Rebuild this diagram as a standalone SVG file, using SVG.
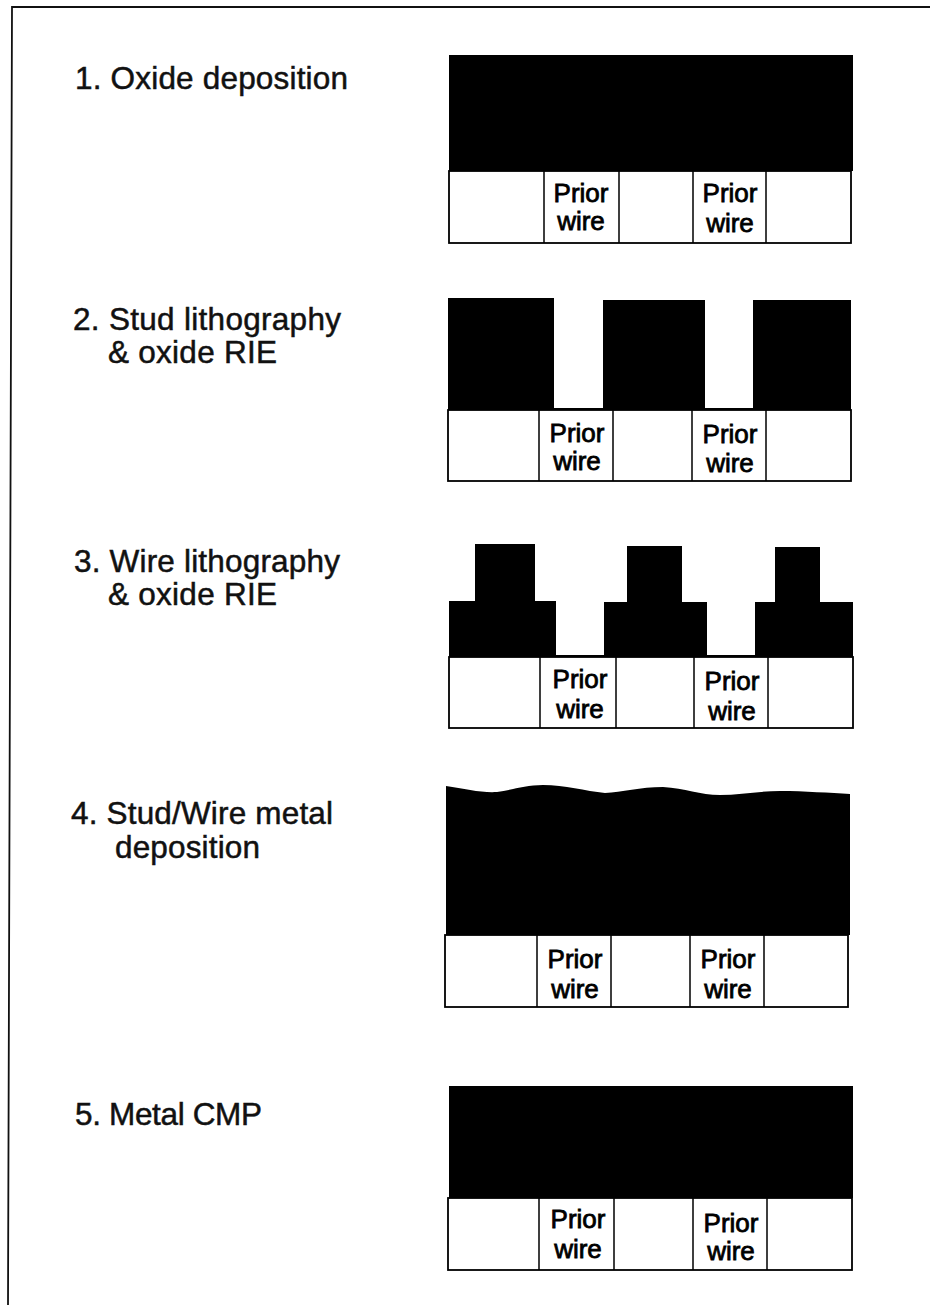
<svg xmlns="http://www.w3.org/2000/svg" width="930" height="1305" viewBox="0 0 930 1305">
<style>
.l{font-family:"Liberation Sans",Arial,sans-serif;font-size:31.500px;fill:#111;stroke:#111;stroke-width:.5px}
.p{font-family:"Liberation Sans",Arial,sans-serif;font-size:26px;fill:#000;stroke:#000;stroke-width:.8px;text-anchor:middle}
.k{fill:#000}
.b{fill:#fff;stroke:#000;stroke-width:1.800}
.d{stroke:#000;stroke-width:1.500;fill:none}
</style>
<rect width="930" height="1305" fill="#fff"/>
<path d="M8 1305L12 7H930" fill="none" stroke="#111" stroke-width="1.800"/>
<g id="step1"><text class="l" x="75" y="89" textLength="273">1. Oxide deposition</text>
<rect class="k" x="449" y="55" width="404" height="116"/><rect class="b" x="449" y="171" width="402" height="72"/><path class="d" d="M544 171V243M619 171V243M693 171V243M766 171V243"/>
<text class="p" x="581" y="202">Prior</text><text class="p" x="581" y="230">wire</text><text class="p" x="730" y="202">Prior</text><text class="p" x="730" y="232">wire</text></g>
<g id="step2"><text class="l" x="73" y="330" textLength="268">2. Stud lithography</text><text class="l" x="108" y="363" textLength="169">&amp; oxide RIE</text>
<path class="k" d="M448 298H554V408H603V300H705V408H753V300H851V410H448Z"/><rect class="b" x="448" y="410" width="403" height="71"/><path class="d" d="M539 410V481M613 410V481M692 410V481M766 410V481"/>
<text class="p" x="577" y="442">Prior</text><text class="p" x="577" y="470">wire</text><text class="p" x="730" y="443">Prior</text><text class="p" x="730" y="472">wire</text></g>
<g id="step3"><text class="l" x="74" y="572" textLength="266">3. Wire lithography</text><text class="l" x="108" y="605" textLength="169">&amp; oxide RIE</text>
<path class="k" d="M449 601H475V544H535V601H556V655H604V602H627V546H682V602H707V655H755V602H775V547H820V602H853V657H449Z"/><rect class="b" x="449" y="657" width="404" height="71"/><path class="d" d="M540 657V728M616 657V728M694 657V728M768 657V728"/>
<text class="p" x="580" y="688">Prior</text><text class="p" x="580" y="718">wire</text><text class="p" x="732" y="690">Prior</text><text class="p" x="732" y="720">wire</text></g>
<g id="step4"><text class="l" x="71" y="824" textLength="262">4. Stud/Wire metal</text><text class="l" x="115" y="858" textLength="145">deposition</text>
<path class="k" d="M446 786C465 789 482 793 497 792C512 790 525 785 543 785C565 785 585 791 605 793C622 792 640 787 663 787C685 788 700 795 720 795C740 795 760 791 780 791C805 791 830 793 850 794V935H446Z"/><rect class="b" x="445" y="935" width="403" height="72"/><path class="d" d="M537 935V1007M611 935V1007M690 935V1007M764 935V1007"/>
<text class="p" x="575" y="968">Prior</text><text class="p" x="575" y="998">wire</text><text class="p" x="728" y="968">Prior</text><text class="p" x="728" y="998">wire</text></g>
<g id="step5"><text class="l" x="75" y="1125" textLength="187">5. Metal CMP</text>
<rect class="k" x="449" y="1086" width="404" height="112"/><rect class="b" x="448" y="1198" width="404" height="72"/><path class="d" d="M539 1198V1270M614 1198V1270M693 1198V1270M767 1198V1270"/>
<text class="p" x="578" y="1228">Prior</text><text class="p" x="578" y="1258">wire</text><text class="p" x="731" y="1232">Prior</text><text class="p" x="731" y="1260">wire</text></g>
</svg>
